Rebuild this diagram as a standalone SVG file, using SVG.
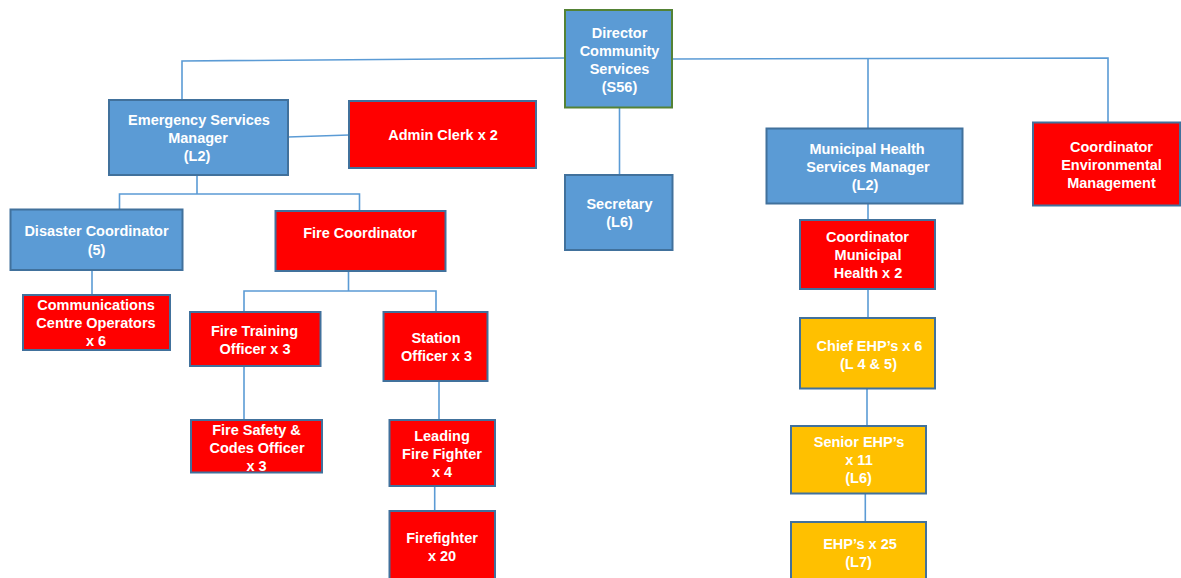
<svg xmlns="http://www.w3.org/2000/svg" width="1181" height="578" viewBox="0 0 1181 578">
<style>
.blue{fill:#5B9BD5;stroke:#41719C;stroke-width:2}
.red{fill:#FF0000;stroke:#41719C;stroke-width:2}
.yel{fill:#FFC000;stroke:#41719C;stroke-width:2}
.dir{fill:#5B9BD5;stroke:#548235;stroke-width:2}
text{font-family:"Liberation Sans",Arial,sans-serif;font-weight:bold;font-size:14.5px;fill:#FFFFFF;text-anchor:middle}
#connectors path{fill:none;stroke:#5B9BD5;stroke-width:1.6}
</style>
<rect width="1181" height="578" fill="#FFFFFF"/>
<g id="connectors">
<path d="M565,58 L182,61 L182,100"/>
<path d="M672,59 L1108,58 L1108,122"/>
<path d="M868,58 L868,128"/>
<path d="M619.5,108 L619.5,175"/>
<path d="M288,137 L349,135"/>
<path d="M197,175 L197,194 M119.5,209 L119.5,194 L359.5,194 L359.5,211"/>
<path d="M92,270 L92,295"/>
<path d="M348.5,271 L348.5,291 M244,312 L244,291 L436,291 L436,312"/>
<path d="M244,366 L244,420"/>
<path d="M439,381 L439,420"/>
<path d="M434.7,486 L434.7,511"/>
<path d="M868,204 L868,220"/>
<path d="M868,289 L868,318"/>
<path d="M867,389 L867,426"/>
<path d="M865.3,494 L865.3,522"/>
</g>
<g id="director">
<rect class="dir" x="565" y="10" width="107" height="97.5"/>
<text x="619.5" y="38">Director</text>
<text x="619.5" y="56">Community</text>
<text x="619.5" y="74">Services</text>
<text x="619.5" y="92">(S56)</text>
</g>
<g id="esm">
<rect class="blue" x="109" y="100" width="179" height="75"/>
<text x="199" y="125">Emergency Services</text>
<text x="198" y="143">Manager</text>
<text x="197" y="161">(L2)</text>
</g>
<g id="admin">
<rect class="red" x="349" y="101" width="187" height="67"/>
<text x="443" y="140">Admin Clerk x 2</text>
</g>
<g id="disaster">
<rect class="blue" x="10.5" y="209.5" width="172" height="60.5"/>
<text x="96.5" y="236">Disaster Coordinator</text>
<text x="96.5" y="254.5">(5)</text>
</g>
<g id="firecoord">
<rect class="red" x="275.5" y="211" width="170" height="60"/>
<text x="360" y="238">Fire Coordinator</text>
</g>
<g id="secretary">
<rect class="blue" x="565" y="175" width="107.5" height="75"/>
<text x="619.5" y="209">Secretary</text>
<text x="619.5" y="227">(L6)</text>
</g>
<g id="mhsm">
<rect class="blue" x="766.5" y="128.5" width="196" height="75"/>
<text x="867" y="154">Municipal Health</text>
<text x="868" y="172">Services Manager</text>
<text x="865" y="190">(L2)</text>
</g>
<g id="cem">
<rect class="red" x="1033" y="122.5" width="147" height="83"/>
<text x="1111.5" y="152">Coordinator</text>
<text x="1111.5" y="170">Environmental</text>
<text x="1111.5" y="188">Management</text>
</g>
<g id="comms">
<rect class="red" x="23" y="295" width="147" height="55"/>
<text x="96" y="310">Communications</text>
<text x="96" y="328">Centre Operators</text>
<text x="96" y="346">x 6</text>
</g>
<g id="training">
<rect class="red" x="190" y="312" width="130.5" height="54"/>
<text x="254.5" y="336">Fire Training</text>
<text x="255" y="354">Officer x 3</text>
</g>
<g id="station">
<rect class="red" x="383.5" y="312" width="104" height="69"/>
<text x="436" y="343">Station</text>
<text x="436.5" y="361">Officer x 3</text>
</g>
<g id="safety">
<rect class="red" x="191" y="420" width="131" height="52.5"/>
<text x="256.5" y="435">Fire Safety &amp;</text>
<text x="257" y="453">Codes Officer</text>
<text x="256.5" y="471">x 3</text>
</g>
<g id="leading">
<rect class="red" x="389.5" y="420" width="105.5" height="66"/>
<text x="442" y="441">Leading</text>
<text x="442" y="459">Fire Fighter</text>
<text x="442" y="477">x 4</text>
</g>
<g id="firefighter">
<rect class="red" x="389.5" y="511" width="105.5" height="70"/>
<text x="442" y="543">Firefighter</text>
<text x="442" y="561">x 20</text>
</g>
<g id="cmh">
<rect class="red" x="800" y="220" width="135" height="69"/>
<text x="867.5" y="242">Coordinator</text>
<text x="868" y="260">Municipal</text>
<text x="868" y="278">Health x 2</text>
</g>
<g id="chief">
<rect class="yel" x="800" y="318" width="135" height="70.5"/>
<text x="869.5" y="351">Chief EHP’s x 6</text>
<text x="868.5" y="369">(L 4 &amp; 5)</text>
</g>
<g id="senior">
<rect class="yel" x="791" y="426" width="135" height="67.5"/>
<text x="859" y="447">Senior EHP’s</text>
<text x="859" y="465">x 11</text>
<text x="858.5" y="483">(L6)</text>
</g>
<g id="ehp">
<rect class="yel" x="791" y="522" width="135" height="60"/>
<text x="860" y="549">EHP’s x 25</text>
<text x="858.5" y="567">(L7)</text>
</g>
</svg>
